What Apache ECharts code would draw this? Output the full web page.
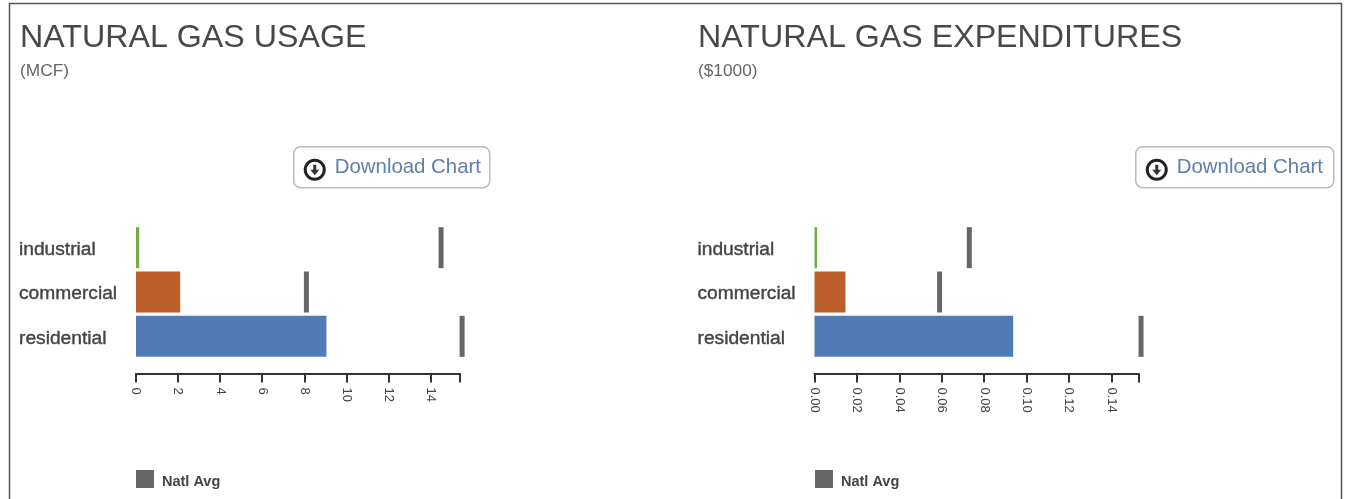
<!DOCTYPE html>
<html>
<head>
   <meta charset="utf-8">
   <title>Natural gas usage and expenditures</title>
   <style type="text/css">
      html, body {
         margin: 0;
         background: #fff;
      }
      #chart {
         width: 1348px;
         height: 499px;
      }
   </style>
   <script type="text/javascript" src="https://cdn.jsdelivr.net/npm/echarts@6/dist/echarts.min.js"></script>
</head>
<body>
<div id="chart"></div>
<script type="text/javascript">
  var categories = ["industrial", "commercial", "residential"];
  var usageValues = [0.15, 2.1, 9.05];
  var usageAvg = [14.5, 8.1, 15.5];
  var usageMax = 15.4;
  var expenditureValues = [0.0012, 0.0146, 0.0937];
  var expenditureAvg = [0.073, 0.059, 0.154];
  var expenditureMax = 0.1528;
  var barColors = ["#70ad47", "#bc5f2d", "#527ab5"];
  var fontName = '"Liberation Sans", Arial, sans-serif';

  var chart = echarts.init(document.getElementById("chart"));

  function panelTitle(text, sub, left) {
    return {
      text: text, subtext: sub, left: left, top: 22, padding: 0, itemGap: 9,
      textStyle: {fontFamily: fontName, fontSize: 32.2, fontWeight: "normal", color: "#484848"},
      subtextStyle: {fontFamily: fontName, fontSize: 17.3, color: "#666"}
    };
  }

  function xAxisFor(index, max, interval, digits) {
    return {
      type: "value", gridIndex: index, min: 0, max: max, interval: interval,
      position: "bottom", offset: 15, splitLine: {show: false},
      axisLine: {show: true, lineStyle: {color: "#333", width: 2}},
      axisTick: {show: true, length: 9, lineStyle: {color: "#333", width: 2}},
      axisLabel: {
        rotate: -90, margin: 14, fontFamily: fontName, fontSize: 13, color: "#444",
        // the closing tick at the end of the domain has no label
        formatter: function (v) { return v === max ? "" : v.toFixed(digits); }
      }
    };
  }

  function yAxisFor(index) {
    return {
      type: "category", gridIndex: index, data: categories, inverse: true,
      axisLine: {show: false}, axisTick: {show: false},
      axisLabel: {
        align: "left", margin: 117,
        formatter: "{a|{value}}",
        // plain padding does not move the label, rich padding does
        rich: {a: {
          padding: [4, 0, 0, 0], fontFamily: fontName, fontSize: 19.2, color: "#444",
          textBorderColor: "#444", textBorderWidth: 0.4
        }}
      }
    };
  }

  function seriesFor(index, values, avg) {
    return [{
      type: "bar", xAxisIndex: index, yAxisIndex: index, barWidth: 41, silent: true,
      data: values.map(function (v, i) {
        return {value: v, itemStyle: {color: barColors[i]}};
      })
    }, {
      type: "scatter", name: "Natl Avg", xAxisIndex: index, yAxisIndex: index, clip: false, silent: true,
      symbol: "rect", symbolSize: [5, 41], itemStyle: {color: "#666", opacity: 1},
      data: avg.map(function (v, i) { return [v, categories[i]]; })
    }];
  }

  function legendFor(left) {
    return {
      left: left, top: 470, padding: 0, itemWidth: 18, itemHeight: 18, icon: "rect",
      data: ["Natl Avg"], selectedMode: false,
      formatter: "{a|{name}}",
      textStyle: {
        rich: {a: {padding: [5, 0, 0, 3], fontFamily: fontName, fontSize: 14.5, fontWeight: "bold", color: "#444"}}
      }
    };
  }

  function downloadButton(left, width) {
    return {
      type: "group", left: left, top: 146,
      children: [
        {type: "rect", shape: {x: 0, y: 0, width: width, height: 41, r: 7},
          style: {fill: "#fff", stroke: "#bbb", lineWidth: 1.5}},
        {type: "circle", shape: {cx: 21, cy: 23, r: 9.5},
          style: {fill: "#fff", stroke: "#222", lineWidth: 3}},
        {type: "polygon", shape: {points: [[19.5, 18], [22.5, 18], [22.5, 23], [25.5, 23], [21, 28.5], [16.5, 23], [19.5, 23]]},
          style: {fill: "#333"}},
        {type: "text", x: 41, y: 11, style: {text: "Download Chart", font: "20.4px " + fontName, fill: "#5d7fa8"}}
      ]
    };
  }

  chart.setOption({
    animation: false,
    title: [
      panelTitle("NATURAL GAS USAGE", "(MCF)", 20),
      panelTitle("NATURAL GAS EXPENDITURES", "($1000)", 698)
    ],
    legend: [legendFor(136), legendFor(815)],
    grid: [
      {left: 136, top: 225.5, width: 324, height: 133},
      {left: 814.5, top: 225.5, width: 324, height: 133}
    ],
    xAxis: [xAxisFor(0, usageMax, 2, 0), xAxisFor(1, expenditureMax, 0.02, 2)],
    yAxis: [yAxisFor(0), yAxisFor(1)],
    series: seriesFor(0, usageValues, usageAvg).concat(seriesFor(1, expenditureValues, expenditureAvg)),
    graphic: [
      // page frame, open at the bottom
      {type: "polyline", shape: {points: [[9.5, 499], [9.5, 3.5], [1341.5, 3.5], [1341.5, 499]]},
        style: {fill: "none", stroke: "#555", lineWidth: 1.5}},
      downloadButton(293, 196),
      downloadButton(1135, 198)
    ]
  });
</script>
</body>
</html>
